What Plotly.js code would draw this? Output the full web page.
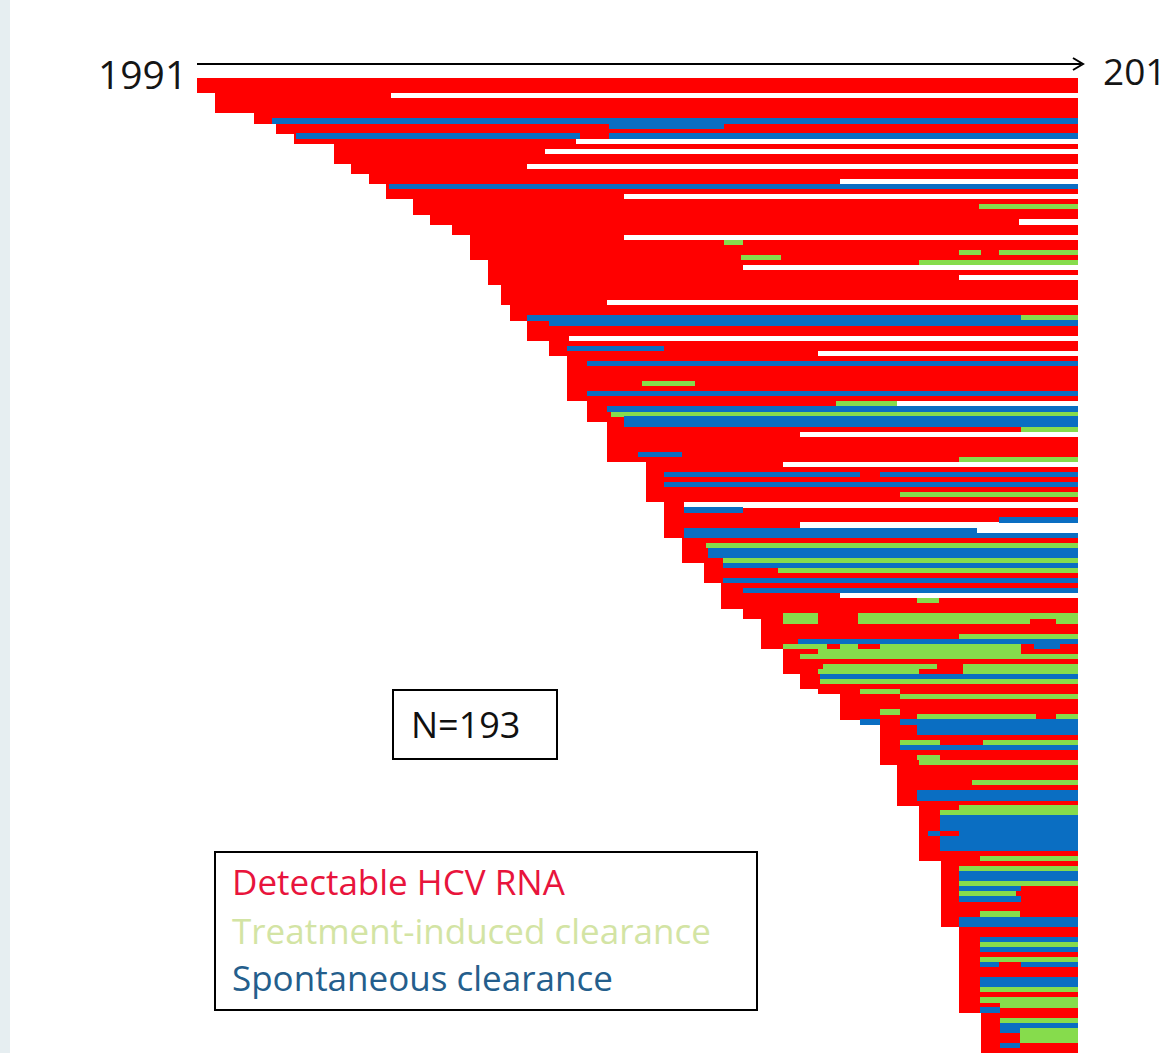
<!DOCTYPE html>
<html>
<head>
<meta charset="utf-8">
<script src="https://cdn.plot.ly/plotly-3.0.1.min.js"></script>
<style>
  html, body { margin: 0; padding: 0; background: #ffffff; }
  #chart { width: 1170px; height: 1053px; }
</style>
</head>
<body>
<div id="chart"></div>
<script>
// ---------------- DATA ----------------
// Follow-up window (years); the end label is cut at the picture edge in the original ("201")
const axisStartLabel = "1991";
const axisEndLabel = "201";
const endYear = 2011;
const nLabel = "N=193";
const legendLabels = ["Detectable HCV RNA", "Treatment-induced clearance", "Spontaneous clearance"];

// Year each of the 193 patients entered follow-up (row 0 = top)
const startYear = [
  1991.0, 1991.0, 1991.0,
  1991.4, 1991.4, 1991.4, 1991.4,
  1992.3, 1992.3,
  1992.8, 1992.8,
  1993.2, 1993.2,
  1994.1, 1994.1, 1994.1, 1994.1,
  1994.5, 1994.5,
  1994.9, 1994.9,
  1995.3, 1995.3, 1995.3,
  1995.9, 1995.9, 1995.9,
  1996.3, 1996.3,
  1996.8, 1996.8,
  1997.2, 1997.2, 1997.2, 1997.2, 1997.2,
  1997.6, 1997.6, 1997.6, 1997.6, 1997.6,
  1997.9, 1997.9, 1997.9, 1997.9,
  1998.1, 1998.1, 1998.1,
  1998.5, 1998.5, 1998.5, 1998.5,
  1999.0, 1999.0, 1999.0,
  1999.4, 1999.4, 1999.4, 1999.4, 1999.4, 1999.4, 1999.4, 1999.4, 1999.4,
  1999.85, 1999.85, 1999.85, 1999.85,
  2000.3, 2000.3, 2000.3, 2000.3, 2000.3, 2000.3, 2000.3, 2000.3,
  2001.2, 2001.2, 2001.2, 2001.2, 2001.2, 2001.2, 2001.2, 2001.2,
  2001.6, 2001.6, 2001.6, 2001.6, 2001.6, 2001.6, 2001.6,
  2002.0, 2002.0, 2002.0, 2002.0, 2002.0,
  2002.5, 2002.5, 2002.5, 2002.5,
  2002.9, 2002.9, 2002.9, 2002.9, 2002.9,
  2003.4, 2003.4,
  2003.8, 2003.8, 2003.8, 2003.8, 2003.8, 2003.8,
  2004.3, 2004.3, 2004.3, 2004.3, 2004.3,
  2004.7, 2004.7, 2004.7,
  2005.1,
  2005.6, 2005.6, 2005.6, 2005.6, 2005.6,
  2006.05,
  2006.5, 2006.5, 2006.5, 2006.5, 2006.5, 2006.5, 2006.5, 2006.5,
  2006.9, 2006.9, 2006.9, 2006.9, 2006.9, 2006.9, 2006.9, 2006.9,
  2007.4, 2007.4, 2007.4, 2007.4, 2007.4, 2007.4, 2007.4, 2007.4, 2007.4, 2007.4, 2007.4,
  2007.9, 2007.9, 2007.9, 2007.9, 2007.9, 2007.9, 2007.9, 2007.9, 2007.9, 2007.9, 2007.9, 2007.9, 2007.9,
  2008.3, 2008.3, 2008.3, 2008.3, 2008.3, 2008.3, 2008.3, 2008.3, 2008.3, 2008.3, 2008.3, 2008.3, 2008.3, 2008.3, 2008.3, 2008.3, 2008.3,
  2008.8, 2008.8, 2008.8, 2008.8, 2008.8, 2008.8, 2008.8, 2008.8
];

// Periods without a result (white gaps)
const gapRow  = [3, 12, 14, 17, 20, 23, 28, 31, 37, 39, 44, 51, 54, 64, 70, 76, 84, 88, 89, 102];
const gapFrom = [1995.4, 1999.6, 1998.9, 1998.5, 2005.6, 2000.7, 2009.65, 2000.7, 2003.4, 2008.3, 2000.3, 1999.45, 2005.1, 2006.9, 2004.7, 2004.3, 2002.05, 2004.7, 2008.7, 2005.6];
const gapTo   = [2011, 2011, 2011, 2011, 2011, 2011, 2011, 2011, 2011, 2011, 2011, 2011, 2011, 2011, 2011, 2011, 2011, 2011, 2011, 2011];

// Treatment-induced clearance periods
const treatRow  = [25, 32, 34, 34, 35, 36, 47, 60, 64, 66, 69, 75, 82, 92, 95, 97, 103,
                   106, 106, 107, 107, 107, 110, 112, 112, 112, 113, 114, 116, 116, 117, 117,
                   119, 121, 122, 125, 126, 126, 131, 131, 134, 135, 139, 144, 145, 154, 156,
                   159, 161, 165, 171, 174, 180, 182, 183, 186, 188, 189, 190];
const treatFrom = [2008.75, 2002.96, 2008.3, 2009.2, 2003.35, 2007.4, 2009.7, 2001.1, 2005.5, 2000.4, 2009.7, 2008.3, 2006.96, 2002.55, 2002.95, 2004.2, 2007.35,
                   2004.3, 2006.0, 2004.3, 2006.0, 2010.5, 2008.3, 2004.3, 2005.6, 2006.5, 2005.1, 2004.7, 2005.2, 2008.4, 2005.1, 2008.4,
                   2005.14, 2006.05, 2006.96, 2006.5, 2007.35, 2010.5, 2006.96, 2008.85, 2007.35, 2007.4, 2008.6, 2008.3, 2007.87, 2008.78, 2008.3,
                   2008.3, 2008.3, 2008.78, 2008.78, 2008.78, 2008.78, 2008.78, 2009.23, 2009.23, 2009.68, 2009.68, 2009.68];
const treatTo   = [2011, 2003.4, 2008.8, 2011, 2004.26, 2011, 2011, 2002.3, 2006.9, 2011, 2011, 2011, 2011, 2011, 2011, 2011, 2007.85,
                   2005.1, 2011, 2005.1, 2009.9, 2011, 2011, 2005.3, 2006.0, 2009.7, 2009.7, 2011, 2007.8, 2011, 2007.4, 2011,
                   2011, 2006.96, 2011, 2006.96, 2010.05, 2011, 2007.87, 2011, 2007.87, 2011, 2011, 2011, 2011, 2011, 2011,
                   2011, 2009.6, 2009.68, 2011, 2011, 2011, 2011, 2011, 2011, 2011, 2011, 2011];

// Spontaneous clearance periods
const spontRow  = [8, 9, 11, 11, 21, 47, 48, 53, 56, 62, 65, 67, 68, 74, 78, 78, 80, 85, 87, 89, 90,
                   93, 94, 96, 99, 101, 111, 112, 118, 127, 127, 128, 129, 132, 141, 142,
                   146, 147, 148, 149, 149, 150, 151, 152, 157, 158, 160, 162, 166, 167,
                   170, 172, 175, 175, 178, 179, 184, 187, 188, 191];
const spontFrom = [1992.7, 2000.35, 1993.25, 2000.35, 1995.35, 1998.5, 1999.0, 1999.4, 1999.85, 1999.85, 2000.3, 2000.7, 2000.7, 2001.0, 2001.6, 2006.5, 2001.6, 2002.05, 2009.2, 2002.05, 2002.05,
                   2002.6, 2002.6, 2002.95, 2002.95, 2003.4, 2004.65, 2010.0, 2005.14, 2006.05, 2006.96, 2007.35, 2007.35, 2006.96, 2007.35, 2007.35,
                   2007.87, 2007.87, 2007.87, 2007.6, 2008.3, 2007.87, 2007.87, 2007.87, 2008.3, 2008.3, 2008.3, 2008.3, 2008.3, 2008.3,
                   2008.78, 2008.78, 2008.78, 2009.7, 2008.78, 2008.78, 2008.78, 2009.23, 2009.23, 2009.23];
const spontTo   = [2011, 2002.96, 1999.7, 2011, 2011, 2009.7, 2011, 2001.6, 2011, 2011, 2011, 2011, 2011, 2002.0, 2006.05, 2011, 2011, 2003.4, 2011, 2008.7, 2011,
                   2011, 2011, 2011, 2011, 2011, 2011, 2010.6, 2011, 2006.5, 2011, 2011, 2011, 2011, 2011, 2011,
                   2011, 2011, 2011, 2007.87, 2011, 2011, 2011, 2011, 2011, 2011, 2009.7, 2009.7, 2011, 2011,
                   2011, 2011, 2009.2, 2011, 2011, 2011, 2009.23, 2011, 2009.68, 2009.68];

// ---------------- STYLE ----------------
const W = 1170, H = 1053;
const C_RED = "#FF0000", C_GREEN = "#86DC4C", C_BLUE = "#0A6EC2", C_GAP = "#FFFFFF";
const pxPerYear = (1078 - 197) / (endYear - 1991);
const x0 = 1991 - 197 / pxPerYear;
const x1 = x0 + W / pxPerYear;
const rowPx = (H - 78) / startYear.length;
const yTop = -0.5 - 78 / rowPx;
const yBot = yTop + H / rowPx;

function segTrace(rows, from, to, color) {
  return {
    type: "bar", orientation: "h",
    y: rows,
    base: from,
    x: to.map((t, i) => t - from[i]),
    width: 1.04,
    marker: { color: color, line: { width: 0 } },
    hoverinfo: "skip"
  };
}

const rowIdx = startYear.map((_, i) => i);
const traces = [
  segTrace(rowIdx, startYear, startYear.map(() => endYear), C_RED),
  segTrace(gapRow, gapFrom, gapTo, C_GAP),
  segTrace(treatRow, treatFrom, treatTo, C_GREEN),
  segTrace(spontRow, spontFrom, spontTo, C_BLUE)
];

const px = v => v / W;
const py = v => 1 - v / H;
const FONT = "Open Sans, DejaVu Sans, sans-serif";

const layout = {
  width: W, height: H,
  margin: { l: 0, r: 0, t: 0, b: 0, pad: 0 },
  paper_bgcolor: "#ffffff", plot_bgcolor: "#ffffff",
  showlegend: false,
  barmode: "overlay",
  bargap: 0,
  hovermode: false,
  xaxis: { range: [x0, x1], visible: false, fixedrange: true },
  yaxis: { range: [yBot, yTop], visible: false, fixedrange: true },
  shapes: [
    { type: "rect", xref: "paper", yref: "paper", x0: 0, x1: px(10), y0: 0, y1: 1,
      fillcolor: "#E6EEF1", line: { width: 0 }, layer: "below" },
    { type: "line", xref: "paper", yref: "paper", x0: px(197), x1: px(1081), y0: py(64), y1: py(64),
      line: { color: "#000000", width: 2 } },
    { type: "path", xref: "paper", yref: "paper",
      path: "M " + px(1073) + " " + py(58) + " L " + px(1083) + " " + py(64) + " L " + px(1073) + " " + py(70),
      line: { color: "#000000", width: 2 } },
    { type: "rect", xref: "paper", yref: "paper", x0: px(393), x1: px(557), y0: py(759), y1: py(690),
      fillcolor: "#ffffff", line: { color: "#000000", width: 2 } },
    { type: "rect", xref: "paper", yref: "paper", x0: px(215), x1: px(757), y0: py(1010), y1: py(852),
      fillcolor: "#ffffff", line: { color: "#000000", width: 2 } }
  ],
  annotations: [
    { xref: "paper", yref: "paper", x: px(96), y: py(73), text: axisStartLabel, showarrow: false,
      xanchor: "left", yanchor: "middle", font: { family: FONT, size: 39, color: "#151515" } },
    { xref: "paper", yref: "paper", x: px(1168), y: py(70), text: axisEndLabel, showarrow: false,
      xanchor: "right", yanchor: "middle", font: { family: FONT, size: 37, color: "#151515" } },
    { xref: "paper", yref: "paper", x: px(466), y: py(724), text: nLabel, showarrow: false,
      xanchor: "center", yanchor: "middle", font: { family: FONT, size: 36, color: "#101010" } },
    { xref: "paper", yref: "paper", x: px(230), y: py(881), text: legendLabels[0], showarrow: false,
      xanchor: "left", yanchor: "middle", font: { family: FONT, size: 35, color: "#E8143C" } },
    { xref: "paper", yref: "paper", x: px(230), y: py(930), text: legendLabels[1], showarrow: false,
      xanchor: "left", yanchor: "middle", font: { family: FONT, size: 35, color: "#D3E4A4" } },
    { xref: "paper", yref: "paper", x: px(230), y: py(977), text: legendLabels[2], showarrow: false,
      xanchor: "left", yanchor: "middle", font: { family: FONT, size: 35, color: "#245E8C" } }
  ]
};

Plotly.newPlot("chart", traces, layout, { displayModeBar: false, staticPlot: true });
</script>
</body>
</html>
